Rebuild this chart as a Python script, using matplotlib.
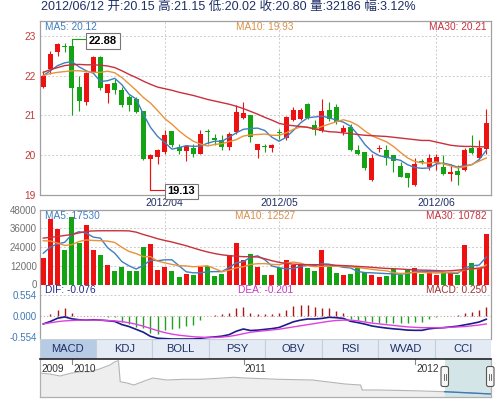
# K线图 + 成交量 + MACD 复刻
import numpy as np
import matplotlib.pyplot as plt
from matplotlib.patches import Rectangle, FancyBboxPatch
from matplotlib.transforms import IdentityTransform

plt.rcParams['font.family'] = ['Liberation Sans', 'Noto Sans CJK SC', 'DejaVu Sans']

# ---- 数据 ----
opens = [21.71, 22.17, 22.58, 22.73, 22.73, 21.71, 21.33, 22.10, 22.46, 21.57,
         21.81, 21.64, 21.45, 21.42, 21.10, 19.91, 19.96, 20.08, 20.60, 20.21,
         20.10, 20.17, 20.04, 20.61, 20.42, 20.37, 20.21, 20.58, 20.94, 21.00,
         20.14, 20.22, 20.17, 20.58, 20.42, 20.89, 20.92, 21.29, 20.75, 20.60,
         21.13, 21.21, 20.58, 20.71, 20.13, 20.07, 19.38, 20.15, 20.13, 20.00,
         19.73, 19.54, 19.25, 19.85, 19.71, 19.81, 19.71, 19.52, 19.60, 19.63,
         20.18, 19.92, 20.15]
highs = [22.12, 22.62, 22.81, 22.83, 22.88, 21.98, 22.08, 22.50, 22.50, 21.79,
         21.92, 21.71, 21.50, 21.46, 21.12, 20.02, 20.16, 20.62, 20.60, 20.29,
         20.25, 20.29, 20.62, 20.65, 20.54, 20.50, 20.58, 21.25, 21.33, 21.00,
         20.27, 20.29, 20.29, 20.67, 20.98, 21.21, 21.18, 21.32, 20.88, 21.40,
         21.33, 21.29, 20.75, 20.79, 20.25, 20.07, 20.04, 20.25, 20.25, 20.00,
         19.83, 19.54, 19.92, 19.90, 20.04, 20.04, 20.00, 19.79, 19.75, 20.17,
         20.50, 20.38, 21.15]
lows = [21.68, 22.04, 22.50, 22.58, 21.00, 21.10, 21.27, 22.08, 21.63, 21.31,
        21.54, 21.21, 21.10, 21.06, 19.88, 19.13, 19.79, 20.04, 20.20, 20.02,
        19.85, 19.96, 20.02, 20.29, 20.25, 20.12, 20.12, 20.54, 20.92, 20.33,
        19.93, 20.07, 20.08, 20.40, 20.38, 20.87, 20.88, 20.92, 20.50, 20.58,
        20.87, 20.79, 20.50, 20.10, 20.00, 19.63, 19.35, 20.08, 19.75, 19.58,
        19.44, 19.21, 19.23, 19.78, 19.63, 19.63, 19.50, 19.35, 19.25, 19.60,
        20.04, 19.88, 20.02]
closes = [22.00, 22.54, 22.79, 22.71, 21.69, 21.35, 22.07, 22.46, 21.68, 21.79,
          21.64, 21.27, 21.25, 21.08, 19.90, 20.00, 20.12, 20.50, 20.25, 20.10,
          20.23, 20.04, 20.54, 20.58, 20.37, 20.21, 20.54, 21.08, 21.07, 20.46,
          20.27, 20.20, 20.25, 20.56, 20.96, 21.13, 21.13, 20.93, 20.63, 21.10,
          20.92, 20.83, 20.68, 20.13, 20.04, 19.68, 19.93, 20.17, 19.92, 19.85,
          19.46, 19.42, 19.79, 19.83, 19.92, 19.96, 19.52, 19.58, 19.50, 20.14,
          20.06, 20.18, 20.80]

ma5 = [22.00, 22.12, 22.25, 22.32, 22.35, 22.22, 22.12, 22.06, 21.85, 21.87,
       21.93, 21.77, 21.53, 21.41, 21.03, 20.70, 20.47, 20.32, 20.15, 20.19,
       20.24, 20.22, 20.23, 20.30, 20.35, 20.35, 20.45, 20.56, 20.65, 20.67,
       20.68, 20.62, 20.45, 20.35, 20.45, 20.62, 20.81, 20.94, 20.96, 20.98,
       20.94, 20.88, 20.83, 20.73, 20.52, 20.27, 20.09, 19.99, 19.95, 19.91,
       19.87, 19.76, 19.69, 19.67, 19.68, 19.78, 19.80, 19.76, 19.70, 19.74,
       19.76, 19.89, 20.12]
ma10 = [22.00, 22.05, 22.08, 22.10, 22.12, 22.12, 22.10, 22.08, 22.08, 22.11,
        22.07, 21.95, 21.79, 21.63, 21.45, 21.31, 21.12, 20.92, 20.78, 20.61,
        20.47, 20.35, 20.28, 20.23, 20.27, 20.29, 20.34, 20.39, 20.48, 20.51,
        20.52, 20.53, 20.50, 20.50, 20.56, 20.65, 20.71, 20.70, 20.65, 20.72,
        20.78, 20.84, 20.89, 20.84, 20.75, 20.61, 20.49, 20.41, 20.34, 20.22,
        20.07, 19.93, 19.84, 19.81, 19.80, 19.83, 19.78, 19.73, 19.68, 19.71,
        19.77, 19.85, 19.93]
ma30 = [22.08, 22.15, 22.20, 22.25, 22.27, 22.28, 22.27, 22.27, 22.26, 22.24,
        22.20, 22.12, 22.03, 21.95, 21.86, 21.78, 21.71, 21.67, 21.63, 21.58,
        21.54, 21.50, 21.45, 21.40, 21.36, 21.32, 21.28, 21.23, 21.17, 21.10,
        21.03, 20.95, 20.88, 20.80, 20.76, 20.74, 20.72, 20.70, 20.66, 20.62,
        20.59, 20.58, 20.56, 20.54, 20.52, 20.50, 20.49, 20.48, 20.47, 20.45,
        20.43, 20.41, 20.39, 20.37, 20.37, 20.33, 20.29, 20.25, 20.23, 20.22,
        20.22, 20.21, 20.21]

volumes = [17200, 42200, 35300, 22200, 43000, 26300, 37900, 22200, 18900, 12500,
           8600, 11200, 8600, 8600, 23700, 26000, 9300, 11400, 8600, 4700,
           6700, 6000, 11400, 11800, 5400, 6700, 18900, 26500, 15700, 19400,
           11300, 6400, 6400, 10300, 15600, 12800, 12400, 10700, 8600, 22000,
           11300, 7100, 6000, 6600, 10700, 7700, 6400, 4700, 5400, 9800,
           6400, 9200, 10300, 6600, 8100, 6400, 8100, 7100, 6000, 25300,
           13500, 10300, 32186]
vma5 = [20000, 24000, 26000, 27000, 31980, 33800, 32940, 30320, 29660, 23560,
        20020, 14680, 11960, 9900, 12140, 15620, 15240, 15800, 15800, 12000,
        8140, 7480, 7480, 8120, 8260, 8260, 10840, 13860, 14640, 17440,
        18360, 15860, 11840, 10760, 10000, 10300, 11500, 12360, 12020, 13300,
        13000, 11940, 11000, 10600, 8340, 7620, 7480, 7220, 6980, 6800,
        6540, 7100, 8220, 8460, 8120, 8120, 7900, 7260, 7140, 10580,
        12000, 12440, 17530]
vma10 = [28000, 27800, 26500, 25000, 25500, 27500, 28500, 28200, 28000, 27770,
         26910, 23810, 21140, 19780, 17850, 17820, 14960, 13880, 12850, 12070,
         11880, 11360, 11640, 11960, 10130, 8200, 9160, 10670, 11380, 12850,
         13310, 13350, 12850, 12700, 13720, 14330, 13680, 12100, 11390, 11650,
         11650, 11720, 11680, 11310, 10820, 10310, 9710, 9110, 8790, 7570,
         7080, 7290, 7720, 7720, 7460, 7330, 7500, 7740, 7800, 9350,
         10060, 10170, 12527]
vma30 = [29700, 30200, 30700, 31400, 32000, 33000, 34000, 34300, 34400, 34400,
         34400, 34400, 34300, 33500, 32000, 30700, 29300, 28200, 27200, 26000,
         24800, 23400, 22000, 20800, 19800, 19000, 18500, 18100, 17800, 17800,
         17600, 16500, 15200, 14200, 13500, 13000, 12800, 12700, 12700, 12600,
         12500, 12300, 12100, 11900, 11600, 11300, 11000, 10600, 10300, 10100,
         9900, 9600, 9300, 9200, 9100, 8900, 8700, 8800, 9200, 9600,
         10100, 10500, 10782]

macd = [0.00, 0.07, 0.18, 0.21, 0.09, 0.02, 0.00, 0.02, 0.00, -0.01,
        -0.03, -0.155, -0.20, -0.27, -0.32, -0.45, -0.47, -0.36, -0.34, -0.32,
        -0.26, -0.22, -0.09, 0.00, 0.03, 0.05, 0.09, 0.21, 0.25, 0.09,
        0.07, 0.07, 0.07, 0.09, 0.18, 0.27, 0.30, 0.30, 0.24, 0.21,
        0.21, 0.15, 0.09, -0.06, -0.09, -0.11, -0.15, -0.17, -0.18, -0.18,
        -0.17, -0.17, -0.16, -0.14, -0.06, -0.02, 0.00, 0.02, 0.04, 0.09,
        0.12, 0.16, 0.25]
dif = [-0.20, -0.135, -0.05, -0.015, -0.065, -0.09, -0.10, -0.09, -0.10, -0.115,
       -0.135, -0.218, -0.27, -0.345, -0.42, -0.53, -0.58, -0.59, -0.60, -0.60,
       -0.60, -0.60, -0.58, -0.56, -0.545, -0.525, -0.485, -0.395, -0.335, -0.375,
       -0.365, -0.345, -0.325, -0.295, -0.22, -0.145, -0.10, -0.07, -0.07, -0.055,
       -0.025, -0.035, -0.055, -0.13, -0.165, -0.205, -0.255, -0.285, -0.31, -0.33,
       -0.345, -0.365, -0.37, -0.37, -0.33, -0.31, -0.30, -0.28, -0.26, -0.225,
       -0.19, -0.15, -0.076]
dea = [-0.20, -0.17, -0.14, -0.12, -0.11, -0.10, -0.10, -0.10, -0.10, -0.11,
       -0.12, -0.14, -0.17, -0.21, -0.26, -0.32, -0.38, -0.43, -0.47, -0.50,
       -0.52, -0.54, -0.55, -0.56, -0.56, -0.55, -0.53, -0.50, -0.46, -0.42,
       -0.40, -0.38, -0.36, -0.34, -0.31, -0.28, -0.25, -0.22, -0.19, -0.16,
       -0.13, -0.11, -0.10, -0.10, -0.12, -0.15, -0.18, -0.20, -0.22, -0.24,
       -0.26, -0.28, -0.29, -0.30, -0.30, -0.30, -0.30, -0.29, -0.28, -0.27,
       -0.25, -0.23, -0.201]

month_idx = [17, 33, 55]
month_labels = ['2012/04', '2012/05', '2012/06']
tabs = ['MACD', 'KDJ', 'BOLL', 'PSY', 'OBV', 'RSI', 'WVAD', 'CCI']

# 缩略图(导航条)的走势
nav_t = [2009.81, 2009.87, 2009.93, 2009.99, 2010.05, 2010.10, 2010.16, 2010.22, 2010.25,
         2010.27, 2010.28, 2010.32, 2010.36, 2010.41, 2010.47, 2010.55, 2010.65, 2010.75,
         2010.85, 2010.94, 2011.01, 2011.20, 2011.40, 2011.59, 2011.68, 2011.69, 2011.78,
         2011.98, 2012.17, 2012.36, 2012.44]
nav_v = [24, 23, 21, 23.7, 25.3, 25.3, 28, 32, 35.3, 36.3, 15.3, 14, 12, 15.3, 19, 17,
         17.7, 17.7, 18.7, 19.7, 19, 17.7, 17, 13, 12, 7, 7, 6.3, 5.3, 3.7, 3]
nav_years = [2009, 2010, 2011, 2012]
nav_year_pos = [2009.815, 2010.0, 2011.0, 2012.0]

header = '2012/06/12 开:20.15 高:21.15 低:20.02 收:20.80 量:32186 幅:3.12%'

# ---- 颜色 ----
RED = '#ee1111'
GREEN = '#13a313'
C5 = '#3f7fc0'
C10 = '#e8923a'
C30 = '#c8303c'
NAVY = '#1f2f66'
GRID = '#cccccc'
SPINE = '#a0a0a0'

opens = np.array(opens); closes = np.array(closes)
highs = np.array(highs); lows = np.array(lows)
x = np.arange(len(closes))
cols = np.where(closes >= opens, RED, GREEN)

W, H = 495, 399
fig = plt.figure(figsize=(W / 100, H / 100), dpi=100)


def box(l, t, r, b):
    return [l / W, 1 - b / H, (r - l) / W, (b - t) / H]


ax = fig.add_axes(box(39.5, 21, 491, 195))
axv = fig.add_axes(box(39.5, 209.5, 491, 284.5))
axm = fig.add_axes(box(39.5, 284.5, 491, 339))
axt = fig.add_axes(box(39.5, 339, 491, 358.5))
axn = fig.add_axes(box(39.5, 358.5, 491, 397))

xlim = (-0.53, 62.66)

# ---- K线 ----
ax.vlines(x, lows, highs, colors=cols, lw=0.8, zorder=3)
ax.bar(x, np.maximum(np.abs(closes - opens), 0.015), bottom=np.minimum(opens, closes),
       width=0.7, color=cols, linewidth=0, zorder=3)
ax.plot(x, ma5, color=C5, lw=1, zorder=4)
ax.plot(x, ma10, color=C10, lw=1, zorder=4)
ax.plot(x, ma30, color=C30, lw=1, zorder=4)
ax.set_xlim(*xlim)
ax.set_ylim(19.0, 23.37)
ax.set_yticks([19, 20, 21, 22, 23])
ax.set_yticklabels(['19', '20', '21', '22', '23'])
ax.set_xticks(month_idx)
ax.set_xticklabels(month_labels)
ax.tick_params(axis='y', length=0, pad=3, labelsize=7.3, labelcolor='#c23b3b')
ax.tick_params(axis='x', length=0, pad=2.5, labelsize=7.5, labelcolor=NAVY)
for p in [20, 21, 22, 23]:
    ax.axhline(p, color=GRID, ls=(0, (2, 2)), lw=0.7, zorder=1)
for m in month_idx:
    ax.axvline(m, color=GRID, ls=(0, (2, 2)), lw=0.7, zorder=1)
for s in ax.spines.values():
    s.set_color(SPINE)
    s.set_linewidth(0.9)

ax.text(0.013, 0.997, 'MA5: 20.12', transform=ax.transAxes, ha='left', va='top',
        color=C5, fontsize=7.3)
ax.text(0.5, 0.997, 'MA10: 19.93', transform=ax.transAxes, ha='center', va='top',
        color='#d9904a', fontsize=7.3)
ax.text(0.9905, 0.997, 'MA30: 20.21', transform=ax.transAxes, ha='right', va='top',
        color=C30, fontsize=7.3)

# 最高/最低价标注
ax.plot([4, 6.2], [22.92, 22.92], color=GREEN, lw=0.8, zorder=5)
ax.plot([4, 4], [22.88, 22.92], color=GREEN, lw=0.8, zorder=5)
ax.text(8.35, 22.87, '22.88', ha='center', va='center', fontsize=8, fontweight='bold',
        zorder=6, bbox=dict(boxstyle='square,pad=0.25', fc='white', ec='#777777', lw=0.8))
ax.plot([15, 15, 17.2], [19.9, 19.13, 19.13], color=RED, lw=0.8, zorder=5)
ax.text(19.35, 19.09, '19.13', ha='center', va='center', fontsize=8, fontweight='bold',
        zorder=6, clip_on=False,
        bbox=dict(boxstyle='square,pad=0.25', fc='white', ec='#777777', lw=0.8))

# ---- 成交量 ----
axv.bar(x, volumes, width=0.7, color=cols, linewidth=0, zorder=3)
axv.plot(x, vma5, color=C5, lw=1, zorder=4)
axv.plot(x, vma10, color=C10, lw=1, zorder=4)
axv.plot(x, vma30, color=C30, lw=1, zorder=4)
axv.set_xlim(*xlim)
axv.set_ylim(0, 48000)
axv.set_yticks([0, 12000, 24000, 36000, 48000])
axv.set_yticklabels(['0', '12000', '24000', '36000', '48000'])
axv.set_xticks([])
axv.tick_params(axis='y', length=0, pad=2, labelsize=7, labelcolor='#707070')
for v in [12000, 24000, 36000]:
    axv.axhline(v, color=GRID, ls=(0, (2, 2)), lw=0.7, zorder=1)
for m in month_idx:
    axv.axvline(m, color=GRID, ls=(0, (2, 2)), lw=0.7, zorder=1)
for s in axv.spines.values():
    s.set_color(SPINE)
    s.set_linewidth(0.9)
axv.spines['bottom'].set_visible(False)

axv.text(0.013, 0.975, 'MA5: 17530', transform=axv.transAxes, ha='left', va='top',
         color=C5, fontsize=7.3, zorder=6)
axv.text(0.5, 0.975, 'MA10: 12527', transform=axv.transAxes, ha='center', va='top',
         color='#d9904a', fontsize=7.3, zorder=6)
axv.text(0.9905, 0.975, 'MA30: 10782', transform=axv.transAxes, ha='right', va='top',
         color=C30, fontsize=7.3, zorder=6)

# ---- MACD ----
macd = np.array(macd)
axm.vlines(x, 0, macd, colors=np.where(macd >= 0, '#a81818', '#22a022'), lw=1, zorder=3)
axm.plot(x, dif, color='#1c1c8a', lw=1.2, zorder=4)
axm.plot(x, dea, color='#e040e0', lw=1, zorder=4)
axm.set_xlim(*xlim)
axm.set_ylim(-0.60, 0.844)
axm.set_yticks([0.554, 0.0, -0.554])
axm.set_yticklabels(['0.554', '0.000', '-0.554'])
axm.set_xticks([])
axm.tick_params(axis='y', length=0, pad=2, labelsize=7, labelcolor='#3f79b6')
axm.axhline(0, color='#c8a8a8', ls=(0, (1, 2)), lw=0.8, zorder=1)
axm.axhline(0.554, color=GRID, ls=(0, (2, 2)), lw=0.7, zorder=1)
for s in axm.spines.values():
    s.set_color(SPINE)
    s.set_linewidth(0.9)
axm.spines['top'].set_visible(False)
axm.spines['bottom'].set_visible(False)

axm.text(0.013, 0.985, 'DIF: -0.076', transform=axm.transAxes, ha='left', va='top',
         color='#232a8a', fontsize=7.3)
axm.text(0.5, 0.985, 'DEA: -0.201', transform=axm.transAxes, ha='center', va='top',
         color='#cc33cc', fontsize=7.3)
axm.text(0.9905, 0.985, 'MACD: 0.250', transform=axm.transAxes, ha='right', va='top',
         color='#a03030', fontsize=7.3)

# ---- 指标标签栏 ----
axt.set_xlim(0, len(tabs))
axt.set_ylim(0, 1)
axt.axis('off')
for k, name in enumerate(tabs):
    fc = '#b7cbe4' if k == 0 else '#e4ebf5'
    axt.add_patch(Rectangle((k, 0), 1, 1, fc=fc, ec='#c5cedb', lw=0.8))
    axt.text(k + 0.5, 0.47, name, ha='center', va='center', fontsize=8, color=NAVY)

# ---- 导航条 ----
nav_t = np.array(nav_t); nav_v = np.array(nav_v)
axn.set_xlim(2009.81, 2012.44)
axn.set_ylim(0, 38.5)
axn.fill_between(nav_t, nav_v, color='#eeeeee', lw=0)
axn.plot(nav_t, nav_v, color='#b5b5b5', lw=0.8)
axn.axvspan(2012.172, 2012.44, color='#d3e5e6', lw=0)
sel = nav_t >= 2012.17
axn.plot(nav_t[sel], nav_v[sel], color='#3f79b6', lw=1)
for yr in nav_year_pos[1:]:
    axn.plot([yr, yr], [38.5, 33.5], color='#888888', lw=0.8)
for yr, pos in zip(nav_years, nav_year_pos):
    axn.text(pos + 0.005, 27.5, str(yr), ha='left', va='center', fontsize=7.3, color='#333333')
axn.set_xticks([])
axn.set_yticks([])
for s in axn.spines.values():
    s.set_color('#b0b0b0')
    s.set_linewidth(0.9)
axn.spines['top'].set_color('#222222')
axn.spines['top'].set_linewidth(1.2)

# 导航条两侧拖动把手(像素坐标)
for hx in [441, 486.5]:
    fig.add_artist(FancyBboxPatch((hx, 12.5), 7.5, 20, boxstyle='round,pad=0,rounding_size=2',
                                  transform=IdentityTransform(), fc='#f6f6f6', ec='#555555', lw=0.8))
    for dx in [2.6, 4.9]:
        fig.add_artist(plt.Line2D([hx + dx, hx + dx], [19.5, 25.5], transform=IdentityTransform(),
                                  color='#555555', lw=0.6))

# ---- 顶部信息 ----
fig.text(41 / W, 1 - 7 / H, header, ha='left', va='center', fontsize=9, color=NAVY)

fig.savefig('out.png', dpi=100)
